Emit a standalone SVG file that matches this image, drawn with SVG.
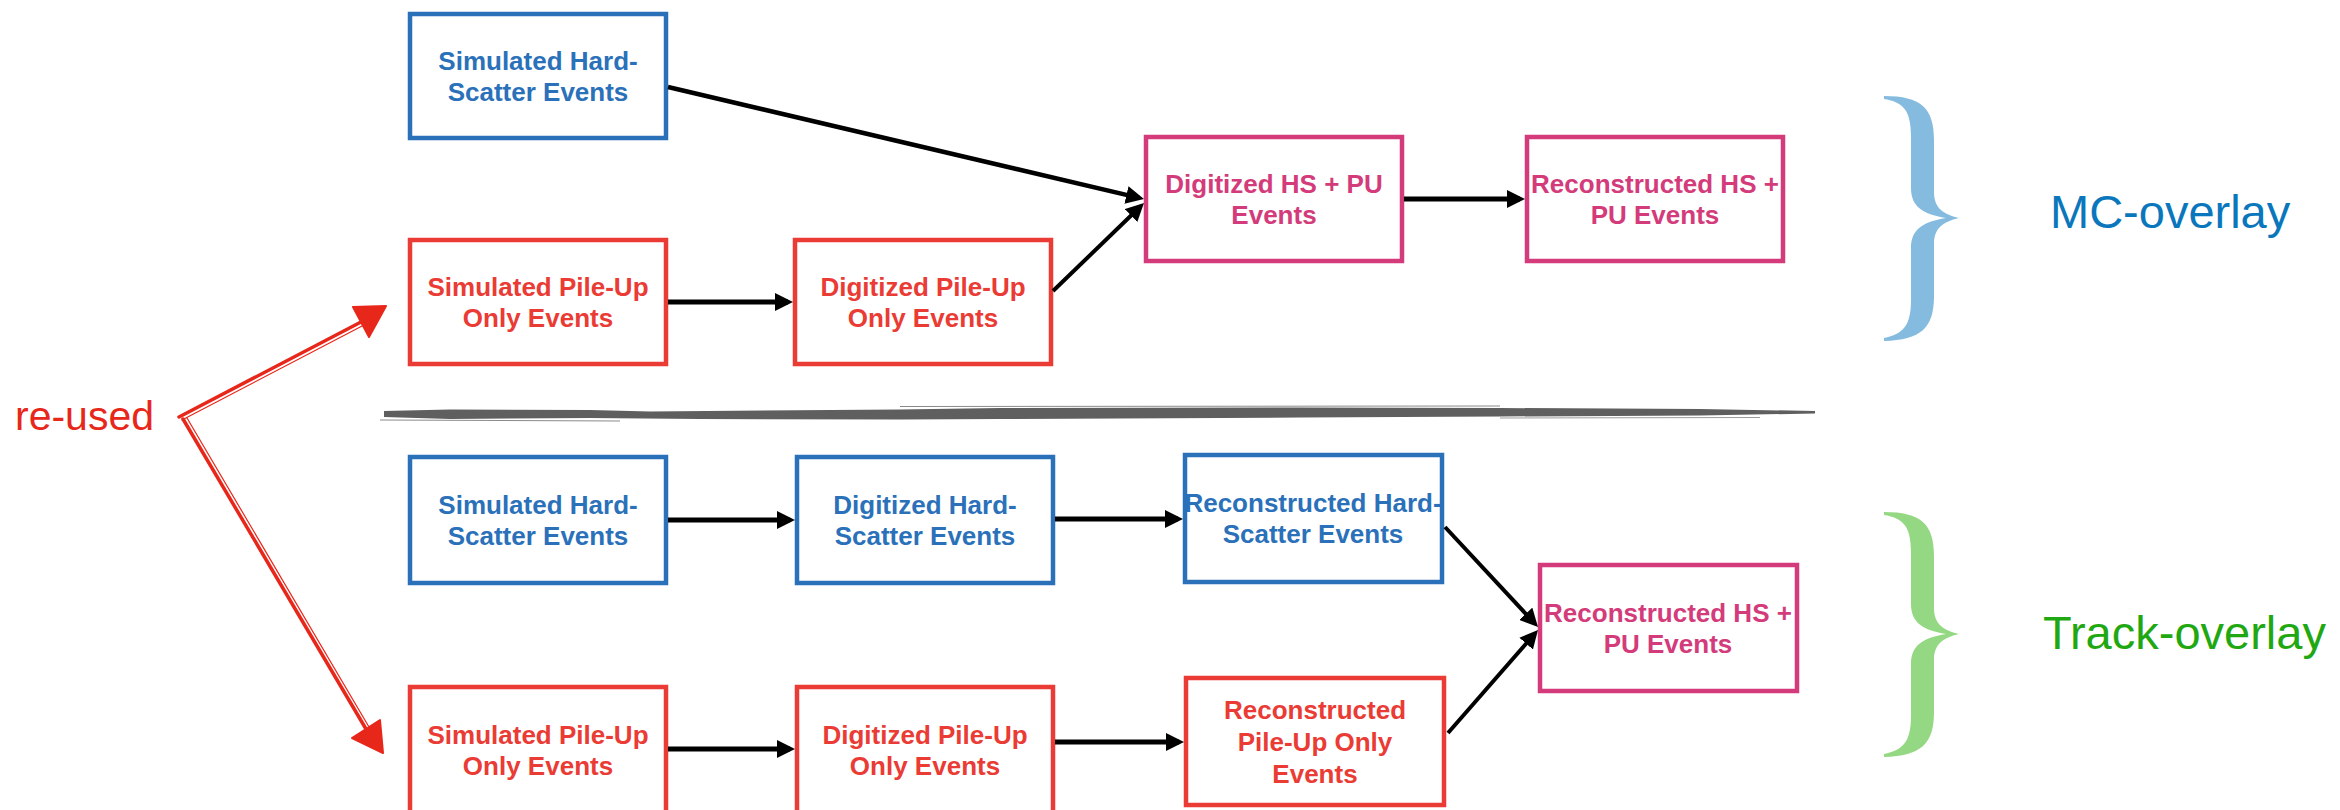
<svg xmlns="http://www.w3.org/2000/svg" width="2340" height="810" viewBox="0 0 2340 810">
<style>
  .box { fill: #ffffff; stroke-width: 4.5; }
  .blue { stroke: #2B71BA; }
  .red { stroke: #EA3B35; }
  .pink { stroke: #D33B7B; }
  .t { font-family: "Liberation Sans", Arial, Helvetica, sans-serif; font-weight: bold; font-size: 26px; text-anchor: middle; }
  .tblue { fill: #2B71BA; }
  .tred { fill: #EA3B35; }
  .tpink { fill: #D33B7B; }
  .conn { stroke: #000000; fill: none; marker-end: url(#ah); }
  .sketch { stroke: #E8271B; fill: none; stroke-linecap: round; }
  .lbl { font-family: "Liberation Sans", Arial, Helvetica, sans-serif; font-size: 47px; }
</style>
<defs>
  <marker id="ah" viewBox="0 0 18 18" markerWidth="18" markerHeight="18" refX="13" refY="9" orient="auto" markerUnits="userSpaceOnUse">
    <path d="M0,0 L18,9 L0,18 z" fill="#000000"/>
  </marker>
  <path id="brace" d="M 1884 96 C 1921 96, 1934 108, 1934 140 L 1934 192 C 1934 208, 1943 214, 1959 218 C 1943 222, 1934 228, 1934 244 L 1934 296 C 1934 328, 1921 340, 1884 341 L 1884 338 C 1903 334, 1911 326, 1911 300 L 1911 248 C 1911 230, 1922 222, 1946 218 C 1922 214, 1911 206, 1911 188 L 1911 136 C 1911 110, 1903 102, 1884 99 Z"/>
</defs>
<rect width="2340" height="810" fill="#ffffff"/>

<!-- separator brush stroke -->
<g id="separator">
  <polygon fill="#5f5f5f" points="384,411 450,409.5 590,410 650,411.5 900,409.5 1000,408 1300,407.5 1500,408 1700,409 1815,411 1815,413.5 1700,415.5 1500,416.5 1300,417.5 1000,419 900,419.5 700,419 590,418 450,419 384,417"/>
  <line x1="380" y1="420" x2="620" y2="421" stroke="#8a8a8a" stroke-width="1"/>
  <line x1="900" y1="406.5" x2="1500" y2="406" stroke="#8a8a8a" stroke-width="1"/>
  <line x1="1500" y1="418" x2="1760" y2="417.5" stroke="#9a9a9a" stroke-width="1"/>
</g>

<!-- braces and labels -->
<g id="mc-overlay">
  <use href="#brace" fill="#85BBDE"/>
  <text class="lbl" x="2050" y="228" fill="#0A77BD">MC-overlay</text>
</g>
<g id="track-overlay">
  <use href="#brace" fill="#95D884" transform="translate(0,416)"/>
  <text class="lbl" x="2043" y="649" fill="#1FA812">Track-overlay</text>
</g>

<!-- re-used -->
<g id="reused">
  <text x="15" y="430" font-family="Liberation Sans, Arial, Helvetica, sans-serif" font-size="41" fill="#E8271B">re-used</text>
  <path class="sketch" stroke-width="3.5" d="M 179 417 L 361 322"/>
  <path class="sketch" stroke-width="1.2" d="M 182 420 L 364 325"/>
  <path class="sketch" stroke-width="3.5" d="M 183 419 L 366 729"/>
  <path class="sketch" stroke-width="1.2" d="M 187 418 L 369 727"/>
  <polygon points="353,307 386,306 369,337" fill="#E8271B" stroke="#E8271B" stroke-width="2" stroke-linejoin="round"/>
  <polygon points="352,738 380,720 383,753" fill="#E8271B" stroke="#E8271B" stroke-width="2" stroke-linejoin="round"/>
</g>

<!-- top: MC-overlay nodes -->
<g id="top-sim-hs">
  <rect class="box blue" x="410" y="14" width="256" height="124"/>
  <text class="t tblue" x="538" y="70">Simulated Hard-</text>
  <text class="t tblue" x="538" y="101">Scatter Events</text>
</g>
<g id="top-sim-pu">
  <rect class="box red" x="410" y="240" width="256" height="124"/>
  <text class="t tred" x="538" y="296">Simulated Pile-Up</text>
  <text class="t tred" x="538" y="327">Only Events</text>
</g>
<g id="top-dig-pu">
  <rect class="box red" x="795" y="240" width="256" height="124"/>
  <text class="t tred" x="923" y="296">Digitized Pile-Up</text>
  <text class="t tred" x="923" y="327">Only Events</text>
</g>
<g id="top-dig-hspu">
  <rect class="box pink" x="1146" y="137" width="256" height="124"/>
  <text class="t tpink" x="1274" y="193">Digitized HS + PU</text>
  <text class="t tpink" x="1274" y="224">Events</text>
</g>
<g id="top-reco-hspu">
  <rect class="box pink" x="1527" y="137" width="256" height="124"/>
  <text class="t tpink" x="1655" y="193">Reconstructed HS +</text>
  <text class="t tpink" x="1655" y="224">PU Events</text>
</g>

<!-- bottom: Track-overlay nodes -->
<g id="bot-sim-hs">
  <rect class="box blue" x="410" y="457" width="256" height="126"/>
  <text class="t tblue" x="538" y="514">Simulated Hard-</text>
  <text class="t tblue" x="538" y="545">Scatter Events</text>
</g>
<g id="bot-dig-hs">
  <rect class="box blue" x="797" y="457" width="256" height="126"/>
  <text class="t tblue" x="925" y="514">Digitized Hard-</text>
  <text class="t tblue" x="925" y="545">Scatter Events</text>
</g>
<g id="bot-reco-hs">
  <rect class="box blue" x="1185" y="455" width="257" height="127"/>
  <text class="t tblue" x="1313" y="512">Reconstructed Hard-</text>
  <text class="t tblue" x="1313" y="543">Scatter Events</text>
</g>
<g id="bot-sim-pu">
  <rect class="box red" x="410" y="687" width="256" height="126"/>
  <text class="t tred" x="538" y="744">Simulated Pile-Up</text>
  <text class="t tred" x="538" y="775">Only Events</text>
</g>
<g id="bot-dig-pu">
  <rect class="box red" x="797" y="687" width="256" height="126"/>
  <text class="t tred" x="925" y="744">Digitized Pile-Up</text>
  <text class="t tred" x="925" y="775">Only Events</text>
</g>
<g id="bot-reco-pu">
  <rect class="box red" x="1186" y="678" width="258" height="127"/>
  <text class="t tred" x="1315" y="719">Reconstructed</text>
  <text class="t tred" x="1315" y="751">Pile-Up Only</text>
  <text class="t tred" x="1315" y="783">Events</text>
</g>
<g id="bot-reco-hspu">
  <rect class="box pink" x="1540" y="565" width="257" height="126"/>
  <text class="t tpink" x="1668" y="622">Reconstructed HS +</text>
  <text class="t tpink" x="1668" y="653">PU Events</text>
</g>

<!-- connectors -->
<g id="connectors">
  <line class="conn" stroke-width="4.5" x1="668" y1="87" x2="1139.1" y2="197.9"/>
  <line class="conn" stroke-width="5" x1="668" y1="302" x2="788" y2="302"/>
  <line class="conn" stroke-width="4" x1="1053" y1="291" x2="1140.4" y2="206.5"/>
  <line class="conn" stroke-width="5" x1="1404" y1="199" x2="1520" y2="199"/>
  <line class="conn" stroke-width="5" x1="668" y1="520" x2="790" y2="520"/>
  <line class="conn" stroke-width="5" x1="1055" y1="519" x2="1178" y2="519"/>
  <line class="conn" stroke-width="5" x1="668" y1="749" x2="790" y2="749"/>
  <line class="conn" stroke-width="5" x1="1055" y1="742" x2="1179" y2="742"/>
  <line class="conn" stroke-width="4" x1="1445" y1="527" x2="1534.6" y2="623.3"/>
  <line class="conn" stroke-width="4" x1="1448" y1="733" x2="1534.7" y2="633.8"/>
</g>
</svg>
